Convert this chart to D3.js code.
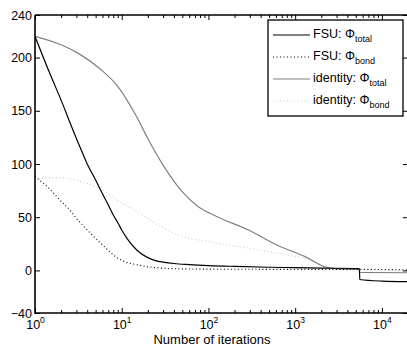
<!DOCTYPE html>
<html>
<head>
<meta charset="utf-8">
<script src="https://cdn.jsdelivr.net/npm/d3@7"></script>
<style>
  body { margin: 0; background: #fff; }
  text { font-family: "Liberation Sans", Arial, sans-serif; }
</style>
</head>
<body>
<svg id="chart" width="407" height="350"></svg>
<script>
// values
var fsuTotalIter = [1, 1.5, 2, 2.5, 3, 3.5, 4, 5, 6, 7, 8, 9, 10, 12, 15, 20, 25, 30, 40, 60, 100, 200, 500, 1000, 2000, 5500, 5560, 10000, 20000];
var fsuTotal     = [220, 184, 160, 140, 124, 111, 100, 85, 72, 61.5, 52, 45, 38, 28, 19, 12, 9, 7.8, 6.5, 5.5, 4.6, 3.8, 3, 2.6, 2.2, 1.8, -8.5, -10, -10.5];

var fsuBondIter = [1, 1.5, 2, 2.5, 3, 3.6, 4.6, 6, 7.4, 9, 10.6, 15.8, 20, 31, 50, 100, 1000, 5500, 20000];
var fsuBond     = [88, 76, 65, 57, 49, 42, 33, 24, 17, 11.5, 8.5, 5, 3.5, 2, 1.5, 1.2, 1, 1, 0.5];

var idTotalIter = [1, 2, 3.3, 5.7, 9, 14.5, 20, 31, 48.6, 76, 130, 290, 650, 920, 1300, 2200, 3000, 5500, 5560, 20000];
var idTotal     = [220, 212, 203, 189, 173, 146, 124, 97, 75, 60, 50, 38, 23, 18, 13, 3.5, 1.5, 1, -1.8, -2.2];

var idBondIter = [1, 2, 3.6, 6.2, 9.7, 15.3, 21.7, 40, 118, 290, 650, 1300, 2700, 5000, 20000];
var idBond     = [87, 87, 83, 75, 64, 55, 47, 35, 26, 21, 16, 11, 2, 0.5, 0];

var xMajor = [1, 10, 100, 1000, 10000];
var yTicks = [-40, 0, 50, 100, 150, 200, 240];

var series = [
  { name: "FSU: ", sub: "total", iter: fsuTotalIter, vals: fsuTotal, color: "#000", dash: null },
  { name: "FSU: ", sub: "bond", iter: fsuBondIter, vals: fsuBond, color: "#000", dash: "1,2.5" },
  { name: "identity: ", sub: "total", iter: idTotalIter, vals: idTotal, color: "#808080", dash: null },
  { name: "identity: ", sub: "bond", iter: idBondIter, vals: idBond, color: "#c8c8c8", dash: "1,2.5" }
];

var mLeft = 35, mRight = 408, mTop = 15, mBottom = 313;
var svg = d3.select("#chart");

var x = d3.scaleLog().domain([1, 20000]).range([mLeft, mRight]);
var y = d3.scaleLinear().domain([-40, 240]).range([mBottom, mTop]);

svg.append("clipPath").attr("id", "clip")
  .append("rect").attr("x", mLeft).attr("y", mTop)
  .attr("width", mRight - mLeft).attr("height", mBottom - mTop);

var line = d3.line()
  .x(function(d) { return x(d[0]); })
  .y(function(d) { return y(d[1]); })
  .curve(d3.curveMonotoneX);

var plot = svg.append("g").attr("clip-path", "url(#clip)");
// draw back to front so black curves sit on top
series.slice().reverse().forEach(function(s) {
  plot.append("path")
    .datum(d3.zip(s.iter, s.vals))
    .attr("fill", "none")
    .attr("stroke", s.color)
    .attr("stroke-width", s.dash ? 1.1 : 1.2)
    .attr("stroke-dasharray", s.dash)
    .attr("d", line);
});

// minor log ticks
var xMinor = [];
xMajor.forEach(function(m) {
  for (var k = 2; k <= 9; k++) if (m * k <= 20000) xMinor.push(m * k);
});

function styleAxis(g) {
  g.select(".domain").remove();
  g.selectAll("line").attr("stroke", "#000");
  g.selectAll("text").attr("fill", "#000").attr("font-size", 12.5);
}

svg.append("g").attr("transform", "translate(0," + mBottom + ")")
  .call(d3.axisBottom(x).tickValues(xMinor).tickSize(-3).tickFormat(""))
  .call(styleAxis);
svg.append("g").attr("transform", "translate(0," + mTop + ")")
  .call(d3.axisTop(x).tickValues(xMinor).tickSize(-3).tickFormat(""))
  .call(styleAxis);
svg.append("g").attr("transform", "translate(0," + mTop + ")")
  .call(d3.axisTop(x).tickValues(xMajor).tickSize(-5).tickFormat(""))
  .call(styleAxis);

var xb = svg.append("g").attr("transform", "translate(0," + mBottom + ")")
  .call(d3.axisBottom(x).tickValues(xMajor).tickSize(-5).tickFormat(""))
  .call(styleAxis);
xb.selectAll(".tick").each(function(d) {
  var t = d3.select(this).append("text")
    .attr("y", 16).attr("text-anchor", "middle").attr("fill", "#000")
    .attr("font-size", 12.5);
  t.append("tspan").text("10");
  t.append("tspan").attr("dy", -6).attr("font-size", 8.5)
    .text(Math.round(Math.log10(d)));
});

svg.append("g").attr("transform", "translate(" + mLeft + ",0)")
  .call(d3.axisLeft(y).tickValues(yTicks).tickSize(-5).tickPadding(3))
  .call(styleAxis);
svg.append("g").attr("transform", "translate(" + mRight + ",0)")
  .call(d3.axisRight(y).tickValues(yTicks).tickSize(-5).tickFormat(""))
  .call(styleAxis);

// frame
svg.append("path")
  .attr("d", "M" + mLeft + "," + mTop + "H" + mRight + "M" + mLeft + "," + mTop + "V" + mBottom + "H" + mRight)
  .attr("fill", "none").attr("stroke", "#000").attr("stroke-width", 1.6);

svg.append("text")
  .attr("x", 212).attr("y", 344)
  .attr("text-anchor", "middle").attr("font-size", 13)
  .text("Number of iterations");

// legend
var lg = svg.append("g").attr("transform", "translate(268,20)");
lg.append("rect").attr("width", 135).attr("height", 96)
  .attr("fill", "#fff").attr("stroke", "#000").attr("stroke-width", 1.3);
series.forEach(function(s, i) {
  var yy = 15 + i * 22;
  lg.append("line").attr("x1", 5).attr("x2", 42).attr("y1", yy).attr("y2", yy)
    .attr("stroke", s.color).attr("stroke-width", 1.2)
    .attr("stroke-dasharray", s.dash);
  var t = lg.append("text").attr("x", 45).attr("y", yy + 3).attr("font-size", 12.5);
  t.append("tspan").text(s.name + "\u03A6");
  t.append("tspan").attr("dy", 4).attr("font-size", 9).text(s.sub);
});
</script>
</body>
</html>
